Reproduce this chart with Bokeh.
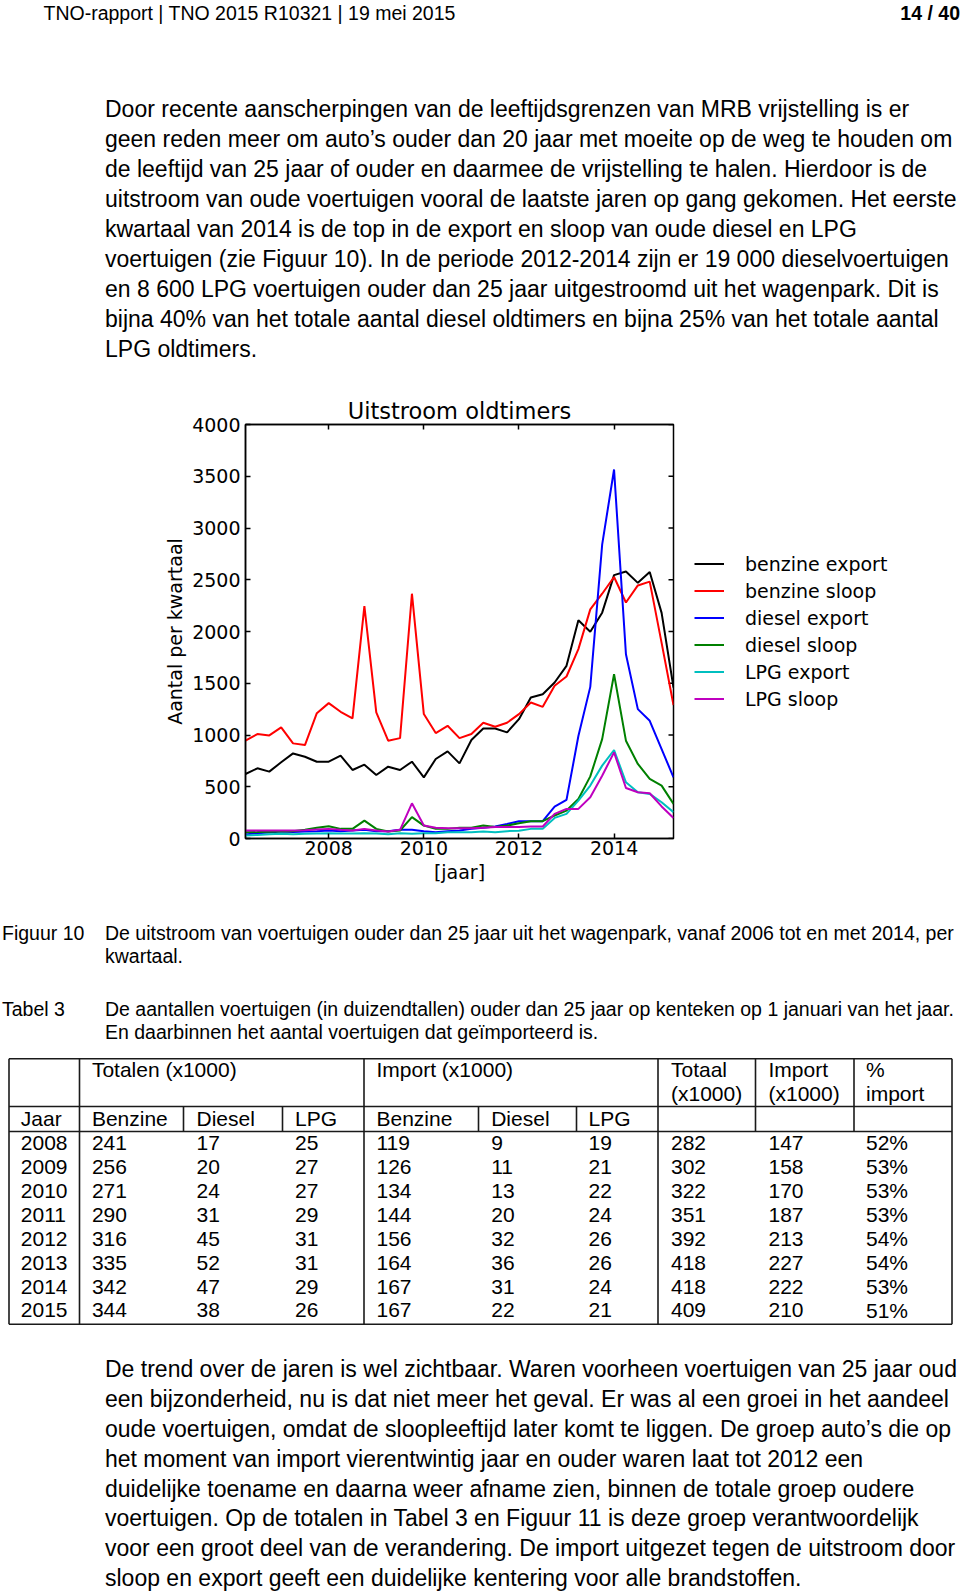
import math
from bokeh.plotting import figure
from bokeh.models import Range1d, FixedTicker, LinearAxis, Legend, LegendItem
from bokeh.embed import file_html
from bokeh.resources import INLINE
from bokeh.core.properties import value

# ---------------- data ----------------
kwartaal = [j + k / 4 for j in range(2006, 2016) for k in range(1, 5)][:37]

benzine_export = [623, 678, 646, 736, 822, 790, 742, 742, 800, 662, 713, 614, 694, 662, 742, 591, 768, 842, 726, 951,
                  1063, 1063, 1025, 1153, 1362, 1394, 1507, 1668, 2108, 1998, 2182, 2545, 2580, 2470, 2575, 2180, 1459]
benzine_sloop = [945, 1009, 996, 1073, 919, 903, 1211, 1308, 1224, 1160, 2246, 1218, 945, 970, 2365, 1202, 1019, 1089,
                 970, 1009, 1118, 1080, 1118, 1202, 1314, 1272, 1475, 1565, 1830, 2214, 2365, 2527, 2280, 2445, 2482, 1890, 1290]
diesel_export = [39, 51, 58, 67, 64, 67, 71, 77, 71, 77, 84, 71, 70, 84, 84, 71, 61, 71, 77, 93, 103, 116, 141, 167,
                 167, 167, 308, 373, 990, 1465, 2840, 3565, 1780, 1250, 1137, 864, 591]
diesel_sloop = [60, 62, 65, 67, 70, 84, 103, 119, 93, 93, 173, 93, 67, 77, 206, 125, 93, 93, 103, 103, 125, 110, 125,
                148, 167, 167, 222, 270, 382, 600, 960, 1587, 945, 720, 575, 511, 334]
lpg_export = [29, 35, 40, 45, 42, 45, 48, 50, 48, 48, 50, 48, 42, 51, 45, 51, 51, 61, 61, 61, 67, 61, 71, 75, 93, 93,
              199, 238, 366, 511, 704, 855, 543, 447, 431, 350, 254]
lpg_sloop = [77, 77, 77, 77, 77, 80, 87, 93, 84, 77, 93, 77, 67, 84, 340, 125, 103, 100, 100, 100, 105, 110, 110, 110,
             116, 116, 238, 286, 286, 398, 607, 832, 488, 447, 437, 310, 198]

series_names = ["benzine export", "benzine sloop", "diesel export", "diesel sloop", "LPG export", "LPG sloop"]
series_colors = ["#000000", "#ff0000", "#0000ff", "#008000", "#00bfbf", "#bf00bf"]

y_ticks = [0, 500, 1000, 1500, 2000, 2500, 3000, 3500, 4000]
x_ticks = [2008, 2010, 2012, 2014]

# table 3
tab_jaar = ["2008", "2009", "2010", "2011", "2012", "2013", "2014", "2015"]
tot_benzine = [241, 256, 271, 290, 316, 335, 342, 344]
tot_diesel = [17, 20, 24, 31, 45, 52, 47, 38]
tot_lpg = [25, 27, 27, 29, 31, 31, 29, 26]
imp_benzine = [119, 126, 134, 144, 156, 164, 167, 167]
imp_diesel = [9, 11, 13, 20, 32, 36, 31, 22]
imp_lpg = [19, 21, 22, 24, 26, 26, 24, 21]
totaal = [282, 302, 322, 351, 392, 418, 418, 409]
import_totaal = [147, 158, 170, 187, 213, 227, 222, 210]
pct_import = ["52%", "53%", "53%", "53%", "54%", "54%", "53%", "51%"]

header_left = "TNO-rapport | TNO 2015 R10321 | 19 mei 2015"
header_right = "14 / 40"
para1 = [
    "Door recente aanscherpingen van de leeftijdsgrenzen van MRB vrijstelling is er",
    "geen reden meer om auto\u2019s ouder dan 20 jaar met moeite op de weg te houden om",
    "de leeftijd van 25 jaar of ouder en daarmee de vrijstelling te halen. Hierdoor is de",
    "uitstroom van oude voertuigen vooral de laatste jaren op gang gekomen. Het eerste",
    "kwartaal van 2014 is de top in de export en sloop van oude diesel en LPG",
    "voertuigen (zie Figuur 10). In de periode 2012-2014 zijn er 19 000 dieselvoertuigen",
    "en 8 600 LPG voertuigen ouder dan 25 jaar uitgestroomd uit het wagenpark. Dit is",
    "bijna 40% van het totale aantal diesel oldtimers en bijna 25% van het totale aantal",
    "LPG oldtimers.",
]
para2 = [
    "De trend over de jaren is wel zichtbaar. Waren voorheen voertuigen van 25 jaar oud",
    "een bijzonderheid, nu is dat niet meer het geval. Er was al een groei in het aandeel",
    "oude voertuigen, omdat de sloopleeftijd later komt te liggen. De groep auto\u2019s die op",
    "het moment van import vierentwintig jaar en ouder waren laat tot 2012 een",
    "duidelijke toename en daarna weer afname zien, binnen de totale groep oudere",
    "voertuigen. Op de totalen in Tabel 3 en Figuur 11 is deze groep verantwoordelijk",
    "voor een groot deel van de verandering. De import uitgezet tegen de uitstroom door",
    "sloop en export geeft een duidelijke kentering voor alle brandstoffen.",
]
fig_caption = ["De uitstroom van voertuigen ouder dan 25 jaar uit het wagenpark, vanaf 2006 tot en met 2014, per",
               "kwartaal."]
tab_caption = ["De aantallen voertuigen (in duizendtallen) ouder dan 25 jaar op kenteken op 1 januari van het jaar.",
               "En daarbinnen het aantal voertuigen dat ge\u00efmporteerd is."]

# ---------------- layout constants (page pixels) ----------------
W = 960
HA = 395     # page y 0 .. 395
HC = 697     # page y 893 .. 1590
OFF_C = 893
BODY = "Liberation Sans"
CHART = "DejaVu Sans"


def page_fig(h):
    p = figure(width=W, height=h, x_range=Range1d(0, W), y_range=Range1d(h, 0), min_border=0,
               toolbar_location=None, output_backend="svg", x_axis_location=None, y_axis_location=None)
    p.grid.visible = False
    p.outline_line_color = None
    return p


def put(p, xs, ys, texts, size, style="normal", align="left", font=BODY):
    p.text(x=xs, y=ys, text=texts, text_font=value(font), text_font_size=value(size),
           text_font_style=value(style), text_align=value(align), text_baseline=value("middle"),
           text_color="black")


# ---------------- top text ----------------
pA = page_fig(HA)
put(pA, [43], [12.2], [header_left], "19.5px")
put(pA, [959.5], [12.2], [header_right], "19.5px", style="bold", align="right")
put(pA, [104.5] * len(para1), [108.8 + 29.95 * k for k in range(len(para1))], para1, "23px")

# ---------------- chart ----------------
X0, X1 = 2006.25, 2015.25
pB = figure(frame_width=428, frame_height=414, x_range=Range1d(X0, X1), y_range=Range1d(0, 4000),
            min_border_left=245, min_border_right=287, min_border_top=28, min_border_bottom=56,
            toolbar_location=None, output_backend="svg", title="Uitstroom oldtimers")
pB.grid.visible = False
pB.outline_line_color = "black"
pB.outline_line_width = 1.5
pB.title.text_font = CHART
pB.title.text_font_size = "22.5px"
pB.title.text_font_style = "normal"
pB.title.text_color = "black"
pB.title.align = "center"
pB.title.standoff = 1


def style_axis(ax, ticks, labels=True):
    ax.ticker = FixedTicker(ticks=ticks)
    ax.major_tick_in = 5
    ax.major_tick_out = 0
    ax.minor_tick_in = 0
    ax.minor_tick_out = 0
    ax.major_tick_line_width = 1.5
    ax.major_tick_line_color = "black"
    ax.axis_line_width = 1.5
    ax.axis_line_color = "black"
    ax.major_label_text_font = CHART
    if labels:
        ax.major_label_text_font_size = "19px"
        ax.major_label_text_color = "black"
    else:
        ax.major_label_text_font_size = "1px"
        ax.major_label_text_color = None
        ax.major_label_standoff = 0


style_axis(pB.xaxis[0], x_ticks)
style_axis(pB.yaxis[0], y_ticks)
pB.xaxis.major_label_standoff = 2
pB.yaxis.major_label_standoff = 5
pB.xaxis.axis_label = "[jaar]"
pB.yaxis.axis_label = "Aantal per kwartaal"
for ax in (pB.xaxis[0], pB.yaxis[0]):
    ax.axis_label_text_font = CHART
    ax.axis_label_text_font_size = "19px"
    ax.axis_label_text_font_style = "normal"
    ax.axis_label_text_color = "black"
pB.xaxis.axis_label_standoff = 3
pB.yaxis.axis_label_standoff = 3

ax_t = LinearAxis()
style_axis(ax_t, x_ticks, labels=False)
pB.add_layout(ax_t, "above")
# inward tick marks on the right edge of the box (matplotlib style)
pB.ray(x=[X1] * len(y_ticks), y=y_ticks, length=5, length_units="screen", angle=math.pi,
       line_color="black", line_width=1.5)

items = []
for name, ys, col in zip(series_names,
                         [benzine_export, benzine_sloop, diesel_export, diesel_sloop, lpg_export, lpg_sloop],
                         series_colors):
    r = pB.line(kwartaal, ys, line_color=col, line_width=2)
    items.append(LegendItem(label=name, renderers=[r]))

legend = Legend(items=items, location="center_left", label_text_font=CHART, label_text_font_size="19px",
                label_text_color="black", glyph_width=30, glyph_height=20, label_height=20, label_standoff=21,
                spacing=5, padding=0, margin=21, border_line_color=None, background_fill_alpha=0)
pB.add_layout(legend, "right")

# ---------------- bottom text + table ----------------
pC = page_fig(HC)
c = lambda y: y - OFF_C
CS = "19.5px"
put(pC, [1.5], [c(931)], ["Figuur 10"], CS)
put(pC, [104.5, 104.5], [c(931), c(954.5)], fig_caption, CS)
put(pC, [1.5], [c(1007.3)], ["Tabel 3"], CS)
put(pC, [104.5, 104.5], [c(1007.3), c(1030)], tab_caption, CS)

# table frame
t_top, t_h1, t_h2, t_bot = c(1057.3), c(1105), c(1130), c(1322.7)
x_left, x_right = 8.5, 951.5
col_x = [79, 183, 282, 363.5, 478, 576, 657.5, 755, 853.5]  # vertical dividers
seg_x0, seg_y0, seg_x1, seg_y1 = [], [], [], []
for y in (t_top, t_h1, t_h2, t_bot):
    seg_x0.append(x_left); seg_x1.append(x_right); seg_y0.append(y); seg_y1.append(y)
for x in (x_left, x_right):
    seg_x0.append(x); seg_x1.append(x); seg_y0.append(t_top); seg_y1.append(t_bot)
for x in (col_x[0], col_x[3], col_x[6], col_x[7], col_x[8]):
    seg_x0.append(x); seg_x1.append(x); seg_y0.append(t_top); seg_y1.append(t_h1)
for x in col_x:
    seg_x0.append(x); seg_x1.append(x); seg_y0.append(t_h1); seg_y1.append(t_h2)
for x in (col_x[0], col_x[3], col_x[6]):
    seg_x0.append(x); seg_x1.append(x); seg_y0.append(t_h2); seg_y1.append(t_bot)
pC.segment(x0=seg_x0, y0=seg_y0, x1=seg_x1, y1=seg_y1, line_color="#1a1a1a", line_width=1.6)

txt_x = [20.3, 91.4, 196, 294.6, 376, 490.7, 588, 670.5, 768, 865.5]
TS = "21px"
put(pC, [txt_x[1], txt_x[4], txt_x[7], txt_x[8], txt_x[9]], [c(1068.2)] * 5,
    ["Totalen (x1000)", "Import (x1000)", "Totaal", "Import", "%"], TS)
put(pC, [txt_x[7], txt_x[8], txt_x[9]], [c(1091.5)] * 3, ["(x1000)", "(x1000)", " import"], TS)
put(pC, txt_x[:7], [c(1117)] * 7, ["Jaar", "Benzine", "Diesel", "LPG", "Benzine", "Diesel", "LPG"], TS)
cols = [tab_jaar, tot_benzine, tot_diesel, tot_lpg, imp_benzine, imp_diesel, imp_lpg, totaal, import_totaal, pct_import]
for ci, colvals in enumerate(cols):
    put(pC, [txt_x[ci]] * len(colvals), [c(1141.4 + 23.94 * k) for k in range(len(colvals))],
        [str(v) for v in colvals], TS)

put(pC, [104.5] * len(para2), [c(1367.4 + 29.9 * k) for k in range(len(para2))], para2, "23px")

open("out.html", "w").write(file_html([pA, pB, pC], INLINE))
